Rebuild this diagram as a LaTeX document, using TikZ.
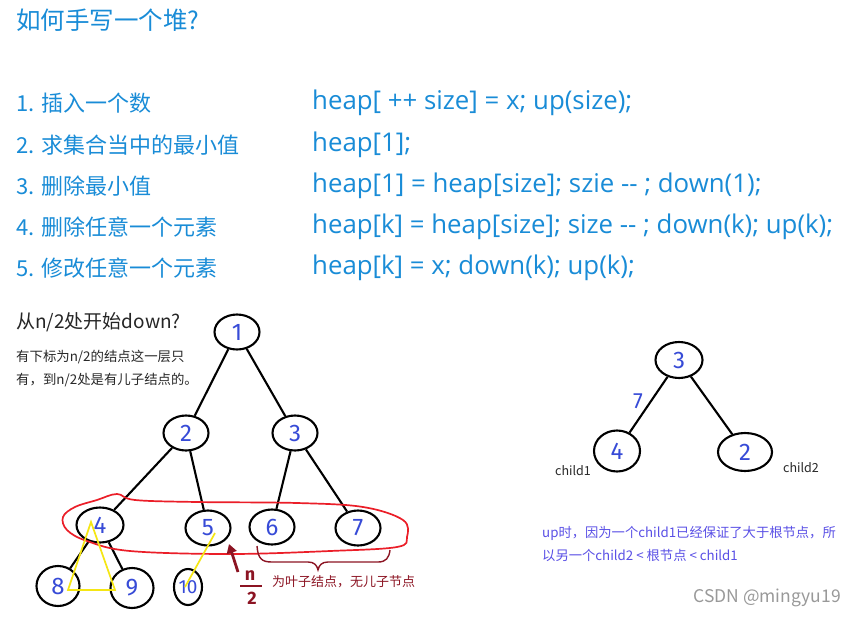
\documentclass[tikz,border=0pt]{standalone}
\usepackage{fontspec}
\setmainfont{Noto Sans CJK SC}
\newfontfamily\hand{Fira Sans}
\newfontfamily\codefont{Open Sans}
\usetikzlibrary{shapes.geometric,arrows.meta}
\definecolor{tblue}{RGB}{25,140,215}
\definecolor{hblue}{RGB}{55,75,215}
\definecolor{dred}{RGB}{140,20,35}
\definecolor{pblue}{RGB}{90,80,230}
\definecolor{gtext}{RGB}{40,40,40}
\definecolor{lred}{RGB}{235,30,40}
\definecolor{yel}{RGB}{245,230,20}
\begin{document}
\begin{tikzpicture}[x=1pt,y=-1pt,
  every node/.style={inner sep=0pt},
  listtxt/.style={anchor=west,text=tblue,font=\fontsize{22}{26}\selectfont},
  codetxt/.style={anchor=west,text=tblue,font=\codefont\fontsize{25.8}{28}\selectfont},
  hn/.style={draw,ellipse,line width=2.1pt,minimum width=45pt,minimum height=35pt,text=hblue,font=\hand\fontsize{24}{24}\selectfont},
  edge/.style={line width=2.1pt},
  small/.style={anchor=west,text=gtext,font=\fontsize{13.4}{15}\selectfont},
  ptxt/.style={anchor=west,text=pblue,font=\fontsize{13.3}{15}\selectfont}]
\useasboundingbox[fill=white] (0,0) rectangle (856,618);

\node[anchor=west,text=tblue,font=\fontsize{24.5}{28}\selectfont] (title) at (16,20) {如何手写一个堆?};

\node[listtxt] (l1) at (16,103) {1. 插入一个数};
\node[listtxt] (l2) at (16,145) {2. 求集合当中的最小值};
\node[listtxt] (l3) at (16,186) {3. 删除最小值};
\node[listtxt] (l4) at (16,227) {4. 删除任意一个元素};
\node[listtxt] (l5) at (16,268) {5. 修改任意一个元素};
\node[codetxt] (c1) at (312,103) {heap[ ++ size] = x; up(size);};
\node[codetxt] (c2) at (312,145) {heap[1];};
\node[codetxt] (c3) at (312,186) {heap[1] = heap[size]; szie -{}- ; down(1);};
\node[codetxt] (c4) at (312,227) {heap[k] = heap[size]; size -{}- ; down(k); up(k);};
\node[codetxt] (c5) at (312,268) {heap[k] = x; down(k); up(k);};

\node[anchor=west,text=black!85,font=\fontsize{19}{22}\selectfont] (q) at (16,322) {从n/2处开始down?};
\node[small] (s1) at (16,357) {有下标为n/2的结点这一层只};
\node[small] (s2) at (16,380) {有，到n/2处是有儿子结点的。};

% left tree
\node[hn] (n1) at (237,332) {1};
\node[hn] (n2) at (186,433) {2};
\node[hn] (n3) at (295,433) {3};
\node[hn,minimum width=47pt] (n4) at (100,525) {4};
\node[hn] (n5) at (208,528) {5};
\node[hn] (n6) at (272,527) {6};
\node[hn] (n7) at (358,528) {7};
\node[hn,minimum width=43pt,minimum height=40pt] (n8) at (58,586) {8};
\node[hn,minimum width=43pt,minimum height=40pt] (n9) at (132,588) {9};
\node[hn,minimum width=28pt,minimum height=36pt,font=\hand\fontsize{19}{19}\selectfont] (n10) at (188,587) {10};
\draw[edge] (n1) -- (n2);
\draw[edge] (n1) -- (n3);
\draw[edge] (n2) -- (n4);
\draw[edge] (n2) -- (n5);
\draw[edge] (n3) -- (n6);
\draw[edge] (n3) -- (n7);
\draw[edge] (n4) -- (n8);
\draw[edge] (n4) -- (n9);

% red loop
\draw[lred,line width=1.7pt] plot[smooth cycle,tension=0.6] coordinates {
 (63,517) (75,507) (97,500) (117,494) (135,500) (197,502) (297,503) (363,507)
 (403,520) (407,537) (397,547) (330,551) (230,554) (130,551) (87,541) (67,530)};

% yellow marks
\coordinate (y1) at (91,522);
\coordinate (y2) at (68,590);
\coordinate (y3) at (115,590);
\draw[yel,line width=1.7pt] (y1) -- (y2) -- (y3) -- cycle;
\coordinate (y4) at (215,533);
\coordinate (y5) at (185,587);
\draw[yel,line width=1.7pt] (y4) -- (y5);

% arrow and brace
\coordinate (a1) at (238,572);
\coordinate (a2) at (229,544);
\draw[dred,line width=2.8pt,-{Triangle[length=9pt,width=10pt]}] (a1) -- (a2);
\coordinate (b1) at (257,546);
\coordinate (b2) at (390,550);
\draw[dred,line width=1.4pt] (b1) .. controls (258,559) and (262,562) .. (272,562) -- (308,562)
  .. controls (314,562) and (317,565) .. (318,570)
  .. controls (319,565) and (322,562) .. (328,562) -- (378,562)
  .. controls (386,562) and (389,558) .. (b2);
\node[text=dred,font=\hand\bfseries\fontsize{18}{18}\selectfont] (fn) at (250,576) {n};
\coordinate (fl1) at (240,586);
\coordinate (fl2) at (262,586);
\draw[dred,line width=2.2pt] (fl1) -- (fl2);
\node[text=dred,font=\hand\bfseries\fontsize{18}{18}\selectfont] (f2) at (252,598) {2};
\node[anchor=west,text=dred,font=\fontsize{13}{15}\selectfont] (leaf) at (272,582) {为叶子结点，无儿子节点};

% right tree
\node[hn,minimum width=47pt,minimum height=36pt] (r3) at (679,360) {3};
\node[hn,minimum width=46pt,minimum height=41pt] (r4) at (617,451) {4};
\node[hn,minimum width=54pt,minimum height=38pt] (r2) at (745,452) {2};
\draw[edge] (r3) -- (r4);
\draw[edge] (r3) -- (r2);
\node[text=hblue,font=\hand\fontsize{22}{22}\selectfont] (seven) at (638,401) {7};
\node[text=gtext,font=\fontsize{12.5}{14}\selectfont] (ch1) at (573,471) {child1};
\node[text=gtext,font=\fontsize{12.5}{14}\selectfont] (ch2) at (801,468) {child2};

\node[ptxt] (p1) at (542,533) {up时，因为一个child1已经保证了大于根节点，所};
\node[ptxt] (p2) at (542,555) {以另一个child2 < 根节点 < child1};

\node[anchor=east,text=black!40,font=\fontsize{17.5}{20}\selectfont] (wm) at (841,598) {CSDN @mingyu19};
\end{tikzpicture}
\end{document}
